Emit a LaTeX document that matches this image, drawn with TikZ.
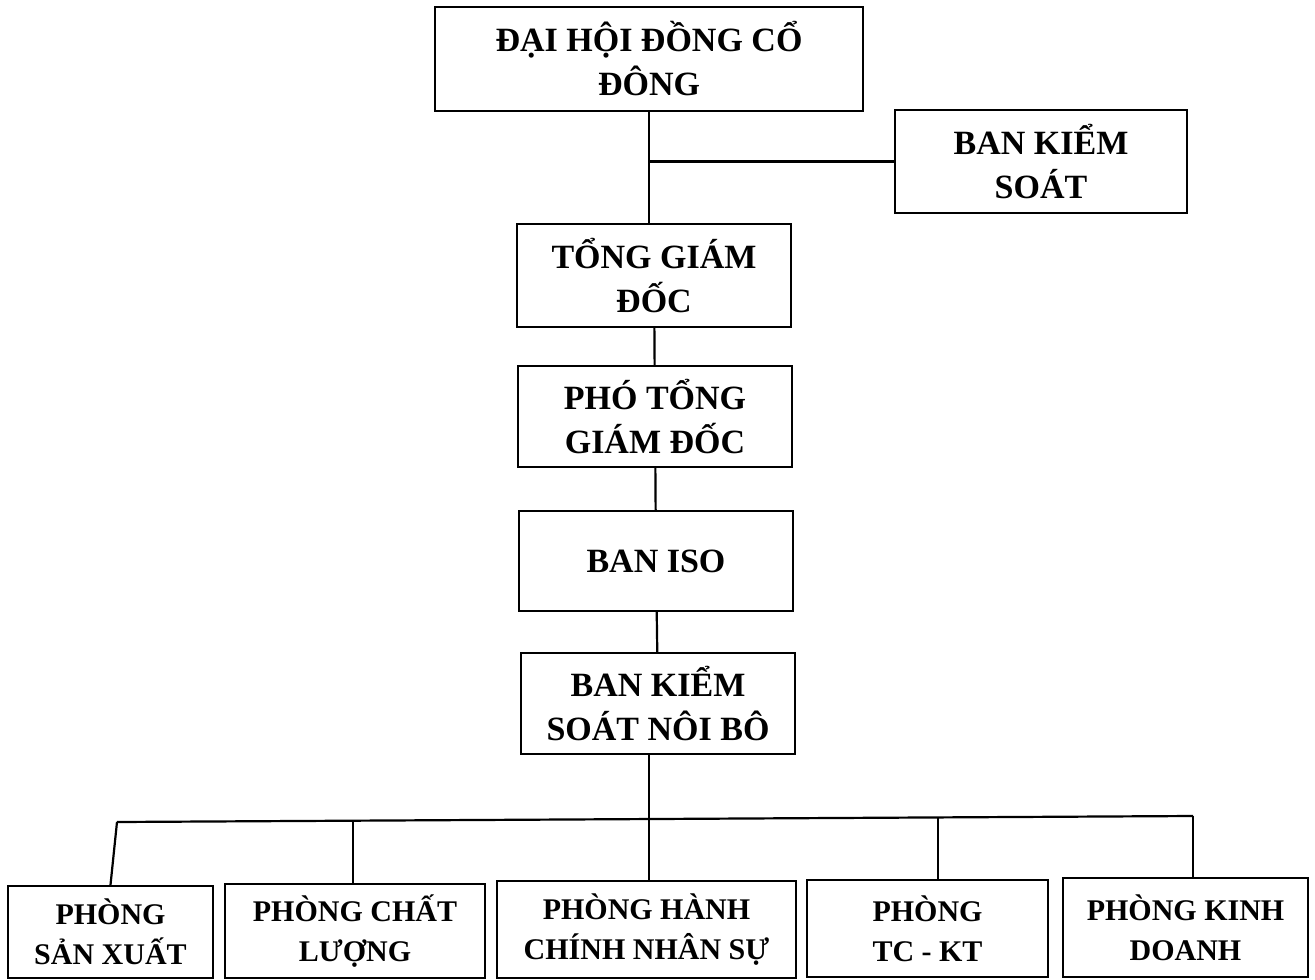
\documentclass[tikz,border=0pt]{standalone}
\usepackage{fontspec}
\setmainfont{Liberation Serif}
\usepackage{tikz}

\tikzset{
 box/.style={draw,line width=2.2pt,align=center,inner sep=0pt,font=\bfseries\fontsize{34}{44}\selectfont},
 dept/.style={box,font=\bfseries\fontsize{30}{40}\selectfont},
 link/.style={line width=2.2pt}
}

\begin{document}
\begin{tikzpicture}[x=1pt,y=-1pt]
 \useasboundingbox (0,0) rectangle (1315,980);
 \node[box,minimum width=428pt,minimum height=104pt] (dhd) at (649,59) {ĐẠI HỘI ĐỒNG CỔ\\ĐÔNG};
 \node[box,minimum width=292pt,minimum height=103pt] (bks) at (1041,161.5) {BAN KIỂM\\SOÁT};
 \node[box,minimum width=274pt,minimum height=103pt] (tgd) at (654,275.5) {TỔNG GIÁM\\ĐỐC};
 \node[box,minimum width=274pt,minimum height=101pt] (ptgd) at (655,416.5) {PHÓ TỔNG\\GIÁM ĐỐC};
 \node[box,minimum width=274pt,minimum height=100pt] (iso) at (656,561) {BAN ISO};
 \node[box,minimum width=274pt,minimum height=101pt] (ksnb) at (658,703.5) {BAN KIỂM\\SOÁT NÔI BÔ};
 \node[dept,minimum width=205pt,minimum height=92pt] (psx) at (110.5,932) {PHÒNG\\SẢN XUẤT};
 \node[dept,minimum width=260pt,minimum height=94pt] (pcl) at (355,931) {PHÒNG CHẤT\\LƯỢNG};
 \node[dept,minimum width=299pt,minimum height=97pt] (phc) at (646.5,929.5) {PHÒNG HÀNH\\CHÍNH NHÂN SỰ};
 \node[dept,minimum width=241pt,minimum height=97pt] (ptc) at (927.5,928.5) {PHÒNG\\TC - KT};
 \node[dept,minimum width=245pt,minimum height=99pt] (pkd) at (1185.5,927.5) {PHÒNG KINH\\DOANH};

 \draw[link] (dhd.south) -- (dhd.south |- tgd.north);
 \draw[link] (dhd.south |- bks.west) -- (bks.west);
 \draw[link] (tgd) -- (ptgd);
 \draw[link] (ptgd) -- (iso);
 \draw[link] (iso) -- (ksnb);

 \coordinate (b1) at (117,822);
 \coordinate (b2) at (353,820.7);
 \coordinate (b3) at (649,819);
 \coordinate (b4) at (938,817.4);
 \coordinate (b5) at (1193,816);
 \draw[link] (b1) -- (b5);
 \draw[link] (ksnb.south -| b3) -- (b3);
 \draw[link] (b1) -- (psx.north);
 \draw[link] (b2) -- (b2 |- pcl.north);
 \draw[link] (b3) -- (b3 |- phc.north);
 \draw[link] (b4) -- (b4 |- ptc.north);
 \draw[link] (b5) -- (b5 |- pkd.north);
\end{tikzpicture}
\end{document}
